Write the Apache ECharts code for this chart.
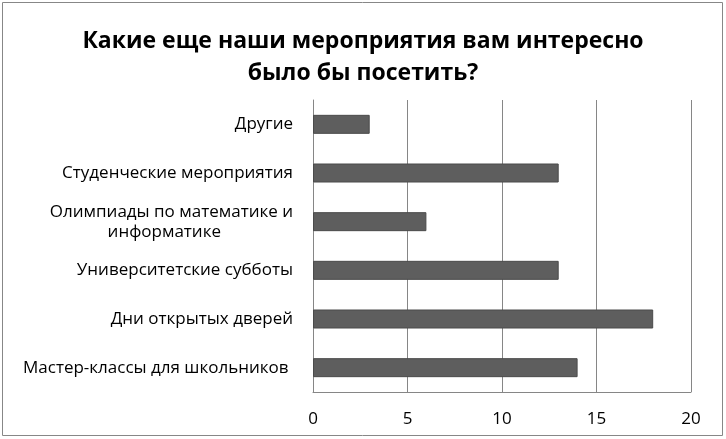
<!DOCTYPE html>
<html>
<head>
<meta charset="utf-8">
<script src="https://cdn.jsdelivr.net/npm/echarts@6/dist/echarts.min.js"></script>
<style>
    html, body { margin: 0; padding: 0; background: #fff; }
    #chart { width: 726px; height: 439px; }
</style>
</head>
<body>
<div id="chart"></div>
<script>
// данные из опроса
const categories = [
    'Мастер-классы для школьников ',
    'Дни открытых дверей',
    'Университетские субботы',
    'Олимпиады по математике и\nинформатике',
    'Студенческие мероприятия',
    'Другие'
];
const answers = [14, 18, 13, 6, 13, 3];
const xTicks = [0, 5, 10, 15, 20];

document.addEventListener('DOMContentLoaded', function() {
    const chart = echarts.init(document.getElementById('chart'));

    let option = {
        backgroundColor: '#fff',
        animation: false,
        title: {
            text: 'Какие еще наши мероприятия вам интересно\nбыло бы посетить?',
            left: 'center',
            top: 20,
            textStyle: {
                fontFamily: 'Open Sans',
                fontWeight: 'bold',
                fontSize: 23,
                lineHeight: 32,
                color: '#000'
            }
        },
        graphic: [{
            type: 'rect',
            shape: { x: 2.5, y: 2.5, width: 720, height: 433 },
            style: { fill: 'none', stroke: '#878787', lineWidth: 1 },
            silent: true
        }],
        grid: {
            left: 313,
            right: 35,
            top: 100,
            bottom: 47
        },
        xAxis: {
            type: 'value',
            min: xTicks[0],
            max: xTicks[xTicks.length - 1],
            interval: xTicks[1] - xTicks[0],
            axisLine: { show: true, lineStyle: { color: '#868686' } },
            axisTick: { show: false },
            axisLabel: {
                margin: 19,
                fontFamily: 'Open Sans',
                fontSize: 17,
                color: '#000'
            },
            splitLine: { show: true, lineStyle: { color: '#868686', width: 1 } }
        },
        yAxis: {
            type: 'category',
            data: categories,
            axisLine: { show: true, lineStyle: { color: '#868686' } },
            axisTick: { show: false },
            axisLabel: {
                margin: 20,
                fontFamily: 'Open Sans',
                fontSize: 17,
                lineHeight: 20,
                color: '#000',
                formatter: function(v) {
                    // вторая строка сдвинута к центру, как в оригинале
                    const parts = v.split('\n');
                    if (parts.length < 2) return v;
                    return parts[0] + '\n{b|' + parts[1] + '}';
                },
                rich: {
                    b: {
                        fontFamily: 'Open Sans',
                        fontSize: 17,
                        lineHeight: 20,
                        color: '#000',
                        padding: [0, 72, 0, 0]
                    }
                }
            }
        },
        series: [{
            type: 'bar',
            data: answers,
            barWidth: 19,
            itemStyle: {
                color: '#5e5e5e',
                borderColor: '#4a4a4a',
                borderWidth: 1
            }
        }]
    };

    chart.setOption(option);
});
</script>
</body>
</html>
